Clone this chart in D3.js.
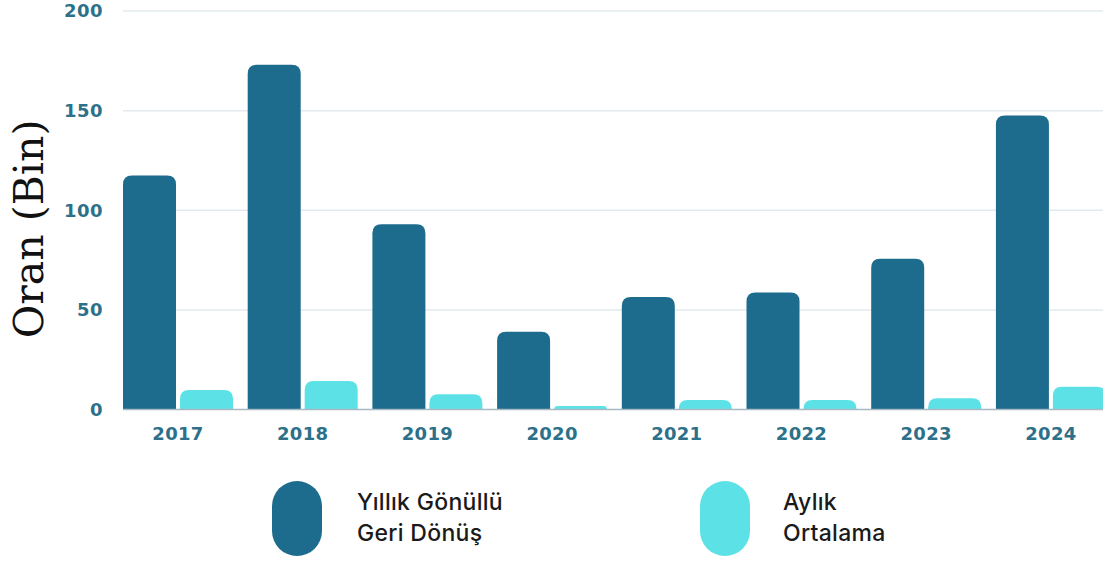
<!DOCTYPE html>
<html><head><meta charset="utf-8">
<script src="https://cdn.jsdelivr.net/npm/d3@7"></script>
<style>body{margin:0;background:#fff}svg{display:block}</style>
</head><body>
<svg id="c" width="1103" height="563"></svg>
<script>
const years = ["2017","2018","2019","2020","2021","2022","2023","2024"];
const seriesNames = ["Yıllık Gönüllü Geri Dönüş","Aylık Ortalama"];
const annual = [117.5, 173, 93, 39, 56.5, 58.7, 75.6, 147.6];
const monthly = [9.8, 14.3, 7.6, 1.8, 4.8, 4.8, 5.6, 11.4];
const yTicks = [0, 50, 100, 150, 200];
const colors = ["#1d6b8d", "#5ce1e6"];
const legendLines = [["Yıllık Gönüllü","Geri Dönüş"],["Aylık","Ortalama"]];

const svg = d3.select("#c");
const y = d3.scaleLinear().domain([0,200]).range([409.5, 11]);
const x = d3.scaleBand().domain(years).range([123, 1105.9]).paddingInner(0.118).paddingOuter(0);
const xs = d3.scaleBand().domain([0,1]).range([0, x.bandwidth()]).paddingInner(0.07);

// grid
svg.append("g").selectAll("line").data(yTicks.filter(d=>d>0)).join("line")
  .attr("x1",123).attr("x2",1103).attr("y1",d=>y(d)).attr("y2",d=>y(d))
  .attr("stroke","#e3eaee").attr("stroke-width",1.5);

const tickFont = "'DejaVu Sans', sans-serif";
// y labels
svg.append("g").selectAll("text").data(yTicks).join("text")
  .attr("x",103).attr("y",d=>y(d)).attr("dy","0.36em").attr("text-anchor","end")
  .attr("font-family",tickFont).attr("font-weight",700).attr("font-size",18)
  .attr("letter-spacing",0.5)
  .attr("fill","#2d7089").text(d=>d);

function topRounded(x0,y0,w,h,r){
  r=Math.min(r,h,w/2);
  return `M${x0},${y0+h}V${y0+r}Q${x0},${y0} ${x0+r},${y0}H${x0+w-r}Q${x0+w},${y0} ${x0+w},${y0+r}V${y0+h}Z`;
}
const data = years.map((yr,i)=>({yr, vals:[annual[i], monthly[i]]}));
const g = svg.append("g");
data.forEach(d=>{
  d.vals.forEach((v,k)=>{
    const x0 = x(d.yr)+xs(k), w = xs.bandwidth();
    g.append("path").attr("d", topRounded(x0, y(v), w, y(0)-y(v), 9)).attr("fill", colors[k]);
  });
});

// baseline
svg.append("line").attr("x1",123).attr("x2",1103).attr("y1",y(0)).attr("y2",y(0))
  .attr("stroke","#a7b9c2").attr("stroke-width",1.5);

// x labels
svg.append("g").selectAll("text").data(years).join("text")
  .attr("x",d=>x(d)+x.bandwidth()/2).attr("y",440).attr("text-anchor","middle")
  .attr("font-family",tickFont).attr("font-weight",700).attr("font-size",18)
  .attr("letter-spacing",0.3)
  .attr("fill","#2d7089").text(d=>d);

// y axis title
svg.append("text").attr("transform","translate(43,229) rotate(-90)").attr("text-anchor","middle")
  .attr("font-family","'DejaVu Serif', serif").attr("font-size",41).attr("fill","#111")
  .text("Oran (Bin)");

// legend
const legX = [272, 700], textX = [357, 783];
seriesNames.forEach((n,k)=>{
  svg.append("rect").attr("x",legX[k]).attr("y",481).attr("width",50).attr("height",75)
    .attr("rx",25).attr("ry",25).attr("fill",colors[k]);
  const t = svg.append("text").attr("font-family","Inter, sans-serif").attr("font-weight",500)
    .attr("font-size",23).attr("letter-spacing",0.3).attr("fill","#1a1a1a");
  legendLines[k].forEach((ln,j)=>t.append("tspan").attr("x",textX[k]).attr("y",510+j*31).text(ln));
});
</script>
</body></html>
